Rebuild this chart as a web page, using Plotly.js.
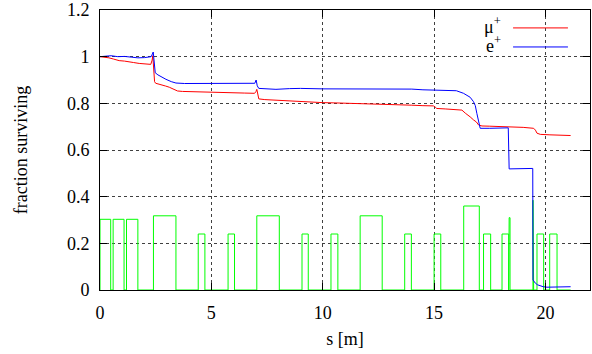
<!DOCTYPE html>
<html>
<head>
<meta charset="utf-8">
<script src="https://cdn.plot.ly/plotly-3.0.1.min.js"></script>
<style>html,body{margin:0;padding:0;background:#fff;}#chart{width:592px;height:354px;}</style>
</head>
<body>
<div id="chart"></div>
<script>
// mu+ surviving fraction vs s
const muS = [0, 0.2, 0.4, 0.6, 0.86, 1.1, 1.31, 1.5, 1.76, 2.0, 2.28, 2.34, 2.37, 2.45, 2.5, 2.65, 2.81, 2.95, 3.11, 3.3, 3.48, 3.7, 4.0, 4.4, 4.76, 5.1, 5.5, 6.0, 6.5, 6.94, 7.0, 7.04, 7.13, 7.4, 7.76, 8.1, 8.51, 9.0, 9.5, 10.0, 10.5, 11.0, 11.5, 12.0, 12.57, 13.0, 13.5, 14.0, 14.5, 14.97, 15.05, 15.12, 15.5, 16.0, 16.25, 16.4, 16.5, 16.62, 16.77, 16.9, 17.0, 17.15, 17.5, 18.0, 18.27, 18.6, 19.0, 19.47, 19.55, 19.62, 19.77, 20.2, 20.6, 21.13];
const muF = [1.0, 0.998, 0.995, 0.99, 0.983, 0.981, 0.979, 0.975, 0.971, 0.969, 0.967, 0.985, 1.004, 0.893, 0.886, 0.882, 0.879, 0.874, 0.869, 0.86, 0.853, 0.851, 0.85, 0.848, 0.847, 0.846, 0.846, 0.845, 0.844, 0.843, 0.85, 0.86, 0.819, 0.816, 0.814, 0.812, 0.81, 0.808, 0.806, 0.803, 0.802, 0.801, 0.8, 0.799, 0.797, 0.796, 0.794, 0.792, 0.79, 0.789, 0.784, 0.778, 0.776, 0.774, 0.771, 0.758, 0.752, 0.742, 0.729, 0.72, 0.707, 0.703, 0.702, 0.701, 0.70, 0.699, 0.697, 0.693, 0.685, 0.672, 0.667, 0.665, 0.664, 0.662];

// e+ surviving fraction vs s
const eS = [0, 0.2, 0.5, 0.8, 1.1, 1.4, 1.7, 2.0, 2.2, 2.3, 2.39, 2.43, 2.48, 2.6, 2.8, 2.96, 3.2, 3.41, 3.8, 4.5, 5.0, 5.5, 6.0, 6.5, 6.95, 7.01, 7.06, 7.13, 7.5, 7.9, 8.5, 9.0, 10.0, 11.0, 12.0, 13.0, 14.0, 14.5, 14.95, 15.1, 15.5, 16.0, 16.32, 16.45, 16.62, 16.77, 16.85, 16.92, 17.0, 17.07, 17.5, 18.0, 18.33, 18.37, 19.0, 19.43, 19.44, 19.5, 19.55, 19.65, 19.77, 19.9, 20.07, 20.5, 21.13];
const eF = [1.0, 1.002, 1.004, 1.0, 1.001, 0.998, 0.995, 0.996, 0.997, 1.0, 1.02, 0.97, 0.931, 0.922, 0.91, 0.903, 0.893, 0.887, 0.885, 0.885, 0.886, 0.885, 0.886, 0.885, 0.886, 0.9, 0.875, 0.864, 0.863, 0.86, 0.863, 0.864, 0.862, 0.862, 0.861, 0.861, 0.861, 0.858, 0.857, 0.855, 0.854, 0.854, 0.843, 0.836, 0.826, 0.807, 0.79, 0.757, 0.72, 0.693, 0.693, 0.694, 0.695, 0.519, 0.519, 0.521, 0.043, 0.035, 0.029, 0.022, 0.017, 0.014, 0.012, 0.012, 0.014];

// beamline elements (aperture outline): start, end, height
const elemStart  = [0, 0.59, 1.19, 2.40, 4.41, 5.75, 7.04, 9.07, 10.37, 11.68, 13.68, 15.00, 16.33, 17.22, 18.05, 18.37, 19.44, 19.62, 20.19];
const elemEnd    = [0.48, 1.08, 1.70, 3.41, 4.71, 6.04, 8.05, 9.35, 10.68, 12.67, 13.98, 15.30, 17.03, 17.54, 18.35, 18.41, 19.47, 19.92, 20.52];
const elemHeight = [0.303, 0.303, 0.303, 0.318, 0.24, 0.24, 0.318, 0.24, 0.24, 0.318, 0.24, 0.24, 0.36, 0.24, 0.24, 0.31, 0.385, 0.24, 0.24];
const sEnd = 21.13;

const xTicks = [0, 5, 10, 15, 20];
const yTicks = [0, 0.2, 0.4, 0.6, 0.8, 1.0, 1.2];
const yTickText = ['0', '0.2', '0.4', '0.6', '0.8', '1', '1.2'];
const seriesNames = ['μ<sup>+</sup>', 'e<sup>+</sup>'];
const seriesColors = ['#ff0000', '#0000ff'];

const gx = [], gy = [];
for (let i = 0; i < elemStart.length; i++) {
  gx.push(elemStart[i], elemStart[i], elemEnd[i], elemEnd[i]);
  gy.push(0, elemHeight[i], elemHeight[i], 0);
}
gx.push(sEnd); gy.push(0);

const FONT = '"Liberation Serif", "Times New Roman", Times, serif';
const FS = 18;

const traces = [
  {x: gx, y: gy, mode: 'lines', line: {color: '#00ff00', width: 1}, showlegend: false, hoverinfo: 'skip'},
  {x: muS, y: muF, mode: 'lines', name: seriesNames[0], line: {color: seriesColors[0], width: 1}, showlegend: false},
  {x: eS, y: eF, mode: 'lines', name: seriesNames[1], line: {color: seriesColors[1], width: 1}, showlegend: false}
];

const axisCommon = {
  showline: true, linecolor: '#000', linewidth: 1, mirror: 'ticks',
  ticks: 'inside', ticklen: 7, tickcolor: '#000', tickwidth: 1,
  showgrid: true, gridcolor: 'rgba(0,0,0,0.75)', griddash: 'dot', gridwidth: 1,
  zeroline: false, tickfont: {family: FONT, size: FS, color: '#000'}
};

// legend key (drawn as layout decoration, in paper coordinates)
const keyY = [0.936, 0.868];
const keyTextY = [0.945, 0.876];
const shapes = keyY.map((yy, i) => ({
  type: 'line', xref: 'paper', yref: 'paper', x0: 0.843, x1: 0.955, y0: yy, y1: yy,
  line: {color: seriesColors[i], width: 1}
}));
const annotations = keyTextY.map((yy, i) => ({
  xref: 'paper', yref: 'paper', x: 0.82, y: yy, xanchor: 'right', yanchor: 'middle',
  borderpad: 0,
  text: seriesNames[i], showarrow: false, font: {family: FONT, size: FS, color: '#000'}
}));

const layout = {
  width: 592, height: 354,
  margin: {l: 100, r: 2, t: 10, b: 64},
  paper_bgcolor: '#fff', plot_bgcolor: '#fff',
  font: {family: FONT, size: FS, color: '#000'},
  xaxis: Object.assign({}, axisCommon, {
    range: [0, 22], tickvals: xTicks, ticktext: xTicks.map(String),
    ticklabelstandoff: 6,
    title: {text: 's [m]', font: {family: FONT, size: FS}, standoff: 10}
  }),
  yaxis: Object.assign({}, axisCommon, {
    range: [0, 1.2], tickvals: yTicks, ticktext: yTickText,
    ticklabelstandoff: 6,
    title: {text: 'fraction surviving', font: {family: FONT, size: FS}, standoff: 34}
  }),
  showlegend: false,
  shapes: shapes,
  annotations: annotations
};

Plotly.newPlot('chart', traces, layout, {displayModeBar: false, staticPlot: true});
</script>
</body>
</html>
